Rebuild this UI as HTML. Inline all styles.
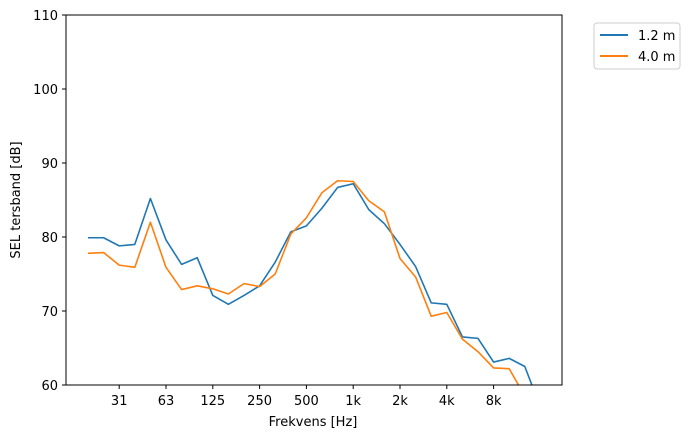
<!DOCTYPE html>
<html><head><meta charset="utf-8"><style>
body{margin:0;background:#fff;font-family:"Liberation Sans","DejaVu Sans",sans-serif;}
text{font-family:"DejaVu Sans","Liberation Sans",sans-serif;font-size:13px;fill:#000}
</style></head><body>
<svg id="chart" width="693" height="438" xmlns="http://www.w3.org/2000/svg">
<defs><clipPath id="clip"><rect x="66" y="15" width="496" height="370"/></clipPath></defs>
<rect x="66" y="15" width="496" height="370" fill="#fff" stroke="none"/>
<g id="series" clip-path="url(#clip)"></g>
<rect x="66" y="15" width="496" height="370" fill="none" stroke="#000" stroke-width="1"/>
<g id="axes"></g>
<text x="313" y="426" text-anchor="middle">Frekvens [Hz]</text>
<text transform="translate(20,200) rotate(-90)" text-anchor="middle">SEL tersband [dB]</text>
<g>
<rect x="594" y="23" width="86" height="46" rx="3" fill="#fff" stroke="#ccc"/>
<line x1="600" y1="35" x2="628" y2="35" stroke="#1f77b4" stroke-width="2"/>
<text x="638" y="40">1.2 m</text>
<line x1="600" y1="56" x2="628" y2="56" stroke="#ff7f0e" stroke-width="2"/>
<text x="638" y="61">4.0 m</text>
</g>
</svg>
<script>
const categories=["20","25","31.5","40","50","63","80","100","125","160","200","250","315","400","500","630","800","1k","1.25k","1.6k","2k","2.5k","3.15k","4k","5k","6.3k","8k","10k","12.5k","16k"];
const series12=[79.9,79.9,78.8,79.0,85.2,79.6,76.3,77.2,72.1,70.9,72.1,73.4,76.6,80.7,81.5,83.9,86.7,87.2,83.7,81.8,79.0,76.0,71.1,70.9,66.5,66.3,63.1,63.6,62.5,57.0];
const series40=[77.8,77.9,76.2,75.9,82.0,75.9,72.9,73.4,73.0,72.3,73.7,73.3,75.0,80.4,82.6,86.0,87.6,87.5,84.9,83.4,77.1,74.6,69.3,69.8,66.2,64.5,62.3,62.2,58.5,55.0];
const xTickLabels=["31","63","125","250","500","1k","2k","4k","8k"];
const xTickIdx=[2,5,8,11,14,17,20,23,26];
const yTicks=[60,70,80,90,100,110];
const NS="http://www.w3.org/2000/svg";
const xs=i=>88+15.6*i;
const ys=v=>385-(v-60)*7.4;
const axes=document.getElementById('axes');
const ser=document.getElementById('series');
function mk(tag,attrs,parent){const e=document.createElementNS(NS,tag);for(const k in attrs)e.setAttribute(k,attrs[k]);parent.appendChild(e);return e;}
xTickIdx.forEach((ix,j)=>{
  const x=xs(ix);
  const t=mk('line',{x1:x,x2:x,y1:385,y2:389,stroke:'#000'},axes);
  
  
  const l=mk('text',{x:x,y:405,'text-anchor':'middle'},axes);
  l.textContent=xTickLabels[j];
  
  
});
yTicks.forEach(v=>{
  const y=ys(v);
  const t=mk('line',{x1:62,x2:66,y1:y,y2:y,stroke:'#000'},axes);
  
  
  const l=mk('text',{x:58,y:y+5,'text-anchor':'end'},axes);
  l.textContent=String(v);
  
  
});
function line(data,color,name){
  const pts=data.map((v,i)=>xs(i)+','+ys(v)).join(' ');
  const p=mk('polyline',{points:pts,fill:'none',stroke:color,'stroke-width':1.6,'stroke-linejoin':'round'},ser);
  
  
}
line(series12,'#1f77b4','line-1-2m');
line(series40,'#ff7f0e','line-4-0m');
</script>
</body></html>
